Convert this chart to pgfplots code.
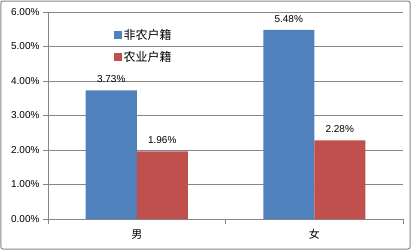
\documentclass[border=0pt]{standalone}
\usepackage{pgfplots}
\pgfplotsset{compat=1.18}
\usepackage{fontspec}
\setmainfont{Liberation Sans}
\newfontfamily\cjk{Noto Sans CJK SC}
\definecolor{sblue}{HTML}{4F81BD}
\definecolor{sred}{HTML}{C0504D}
\definecolor{gridg}{HTML}{868686}
\begin{document}
\begin{tikzpicture}
\begin{axis}[
  name=ax,
  at={(0pt,0pt)}, anchor=south west,
  scale only axis, width=355pt, height=207pt,
  xmin=-0.5, xmax=1.5, ymin=0, ymax=6,
  axis lines*=left,
  axis line style={gridg, line width=0.8pt},
  xtick={0,1}, xticklabels={{\cjk 男},{\cjk 女}},
  minor xtick={-0.5,0.5,1.5},
  major x tick style={draw=none},
  minor x tick style={gridg, line width=0.8pt},
  minor tick length=5pt,
  ytick={0,1,...,6},
  y tick style={gridg, line width=0.8pt},
  major tick length=5pt,
  tick align=outside,
  ymajorgrids, grid style={gridg, line width=0.8pt},
  /pgf/number format/assume math mode=true,
  yticklabel={\pgfmathprintnumber[fixed,fixed zerofill,precision=2]{\tick}\%},
  tick label style={font=\fontsize{10}{12}\selectfont, text=black},
  xticklabel style={yshift=-2pt, font=\fontsize{11}{12}\selectfont},
  ybar=0pt, bar width=51pt,
  nodes near coords={\pgfmathprintnumber[fixed,fixed zerofill,precision=2]{\pgfplotspointmeta}\%},
  nodes near coords style={font=\fontsize{10}{11}\selectfont, text=black, yshift=4pt},
  legend style={at={(0.176,0.935)}, anchor=north west, draw=none, fill=none,
    font=\fontsize{12}{13}\selectfont\cjk, row sep=6pt},
  legend image code/.code={\fill[#1] (0pt,-4pt) rectangle (8pt,4pt);},
]
\addplot[fill=sblue, draw=none] coordinates {(0,3.73) (1,5.48)};
\addplot[fill=sred, draw=none] coordinates {(0,1.96) (1,2.28)};
\legend{非农户籍,农业户籍}
\end{axis}
\pgfresetboundingbox
\useasboundingbox (-48pt,-31pt) rectangle (364pt,219pt);
\draw[gridg, line width=1pt, rounded corners=2pt] (-47pt,-30pt) rectangle (362pt,218pt);
\end{tikzpicture}
\end{document}
